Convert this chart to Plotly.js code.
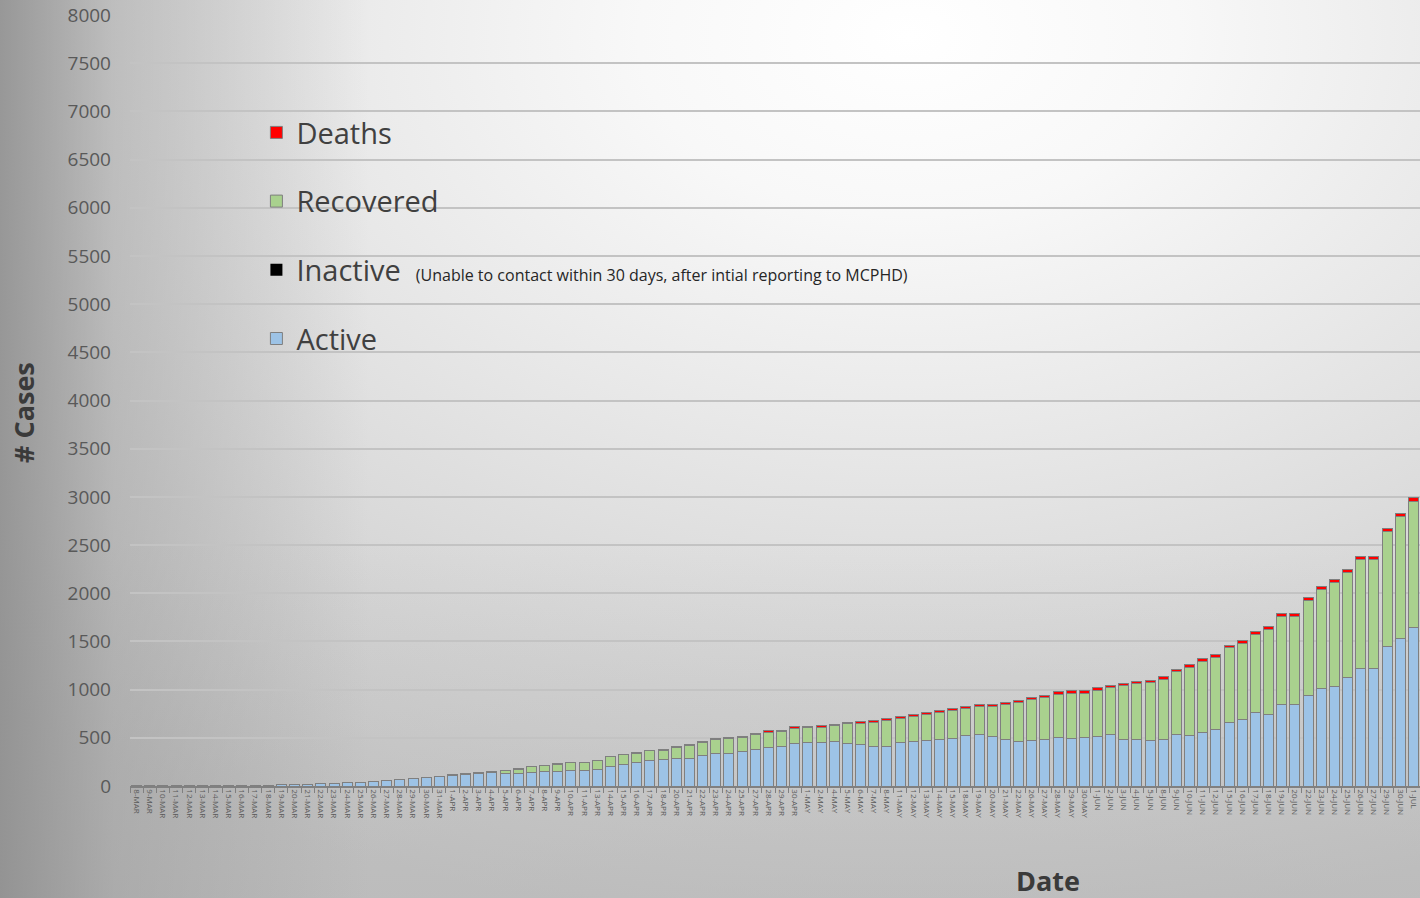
<!DOCTYPE html>
<html>
<head>
<meta charset="utf-8">
<script src="https://cdn.plot.ly/plotly-3.0.1.min.js"></script>
<style>
html,body{margin:0;padding:0;width:1420px;height:898px;overflow:hidden;}
body{
  background:
    linear-gradient(to right, rgba(140,140,140,0.85) 0%, rgba(150,150,150,0.45) 8%, rgba(160,160,160,0) 26%),
    linear-gradient(to bottom, rgba(170,170,170,0) 60%, rgba(170,170,170,0.35) 100%),
    radial-gradient(ellipse 95% 100% at 64% 4%, #ffffff 0%, #f8f8f8 20%, #e8e8e8 45%, #d4d4d4 75%, #c6c6c6 100%);
}
#chart{width:1420px;height:898px;}
</style>
</head>
<body>
<div id="chart"></div>
<script>
// ---- Data ----
const dates = [
  "8-MAR","9-MAR","10-MAR","11-MAR","12-MAR","13-MAR","14-MAR","15-MAR","16-MAR","17-MAR","18-MAR","19-MAR",
  "20-MAR","21-MAR","22-MAR","23-MAR","24-MAR","25-MAR","26-MAR","27-MAR","28-MAR","29-MAR","30-MAR","31-MAR",
  "1-APR","2-APR","3-APR","4-APR","5-APR","6-APR","7-APR","8-APR","9-APR","10-APR","11-APR","13-APR","14-APR",
  "15-APR","16-APR","17-APR","18-APR","20-APR","21-APR","22-APR","23-APR","24-APR","25-APR","27-APR","28-APR",
  "29-APR","30-APR","1-MAY","2-MAY","4-MAY","5-MAY","6-MAY","7-MAY","8-MAY","11-MAY","12-MAY","13-MAY","14-MAY",
  "15-MAY","18-MAY","19-MAY","20-MAY","21-MAY","22-MAY","26-MAY","27-MAY","28-MAY","29-MAY","30-MAY",
  "1-JUN","2-JUN","3-JUN","4-JUN","5-JUN","8-JUN","9-JUN","10-JUN","11-JUN","12-JUN","15-JUN","16-JUN","17-JUN",
  "18-JUN","19-JUN","20-JUN","22-JUN","23-JUN","24-JUN","25-JUN","26-JUN","27-JUN","29-JUN","30-JUN","1-JUL"
];

const active = [
  1,1,1,2,2,3,3,4,5,7,9,14,
  17,18,21,25,33,37,49,59,69,74,86,98,
  108,118,126,138,125,126,145,150,155,158,160,176,200,
  224,241,269,276,286,290,317,338,341,355,383,397,
  414,441,448,448,462,441,428,407,414,448,462,476,483,
  490,524,531,510,483,459,469,483,503,493,500,
  510,538,483,483,469,486,534,524,555,586,662,693,759,
  745,841,841,938,1007,1034,1124,1217,1217,1452,1534,1641
];

const inactive = [
  0,0,0,0,0,0,0,0,0,0,0,0,
  0,0,0,0,0,0,0,0,0,0,0,0,
  0,0,0,0,0,0,0,0,0,0,0,0,0,
  0,0,0,0,0,0,0,0,0,0,0,0,
  0,0,0,0,0,0,0,0,0,0,0,0,0,
  0,0,0,0,0,0,0,0,0,0,0,
  0,0,0,0,0,0,0,0,0,0,0,0,0,
  0,0,0,0,0,0,0,0,0,0,0,0
];

const recovered = [
  0,0,0,0,0,0,0,0,0,0,0,0,
  0,0,0,0,0,0,0,0,0,0,0,0,
  6,9,11,13,33,48,54,62,70,81,82,84,103,
  100,99,95,94,111,128,131,144,147,146,149,161,
  148,158,157,160,162,204,223,251,264,257,263,263,282,
  289,282,292,315,359,403,428,433,451,467,460,
  485,480,556,576,600,624,652,707,737,747,770,787,811,
  883,921,921,989,1027,1074,1091,1135,1135,1189,1262,1313
];

const deaths = [
  0,0,0,0,0,0,0,0,0,0,0,0,
  0,0,0,0,1,1,1,1,1,2,2,2,
  2,2,3,3,4,4,4,5,5,5,6,6,7,
  7,8,8,9,10,10,11,11,12,13,13,14,
  14,15,16,16,17,17,18,18,19,19,20,20,21,
  21,22,22,23,23,24,24,25,25,26,26,
  26,27,27,27,28,28,28,28,29,29,30,30,30,
  31,31,31,32,32,33,33,34,34,35,35,36
];

const yTicks = [0,500,1000,1500,2000,2500,3000,3500,4000,4500,5000,5500,6000,6500,7000,7500,8000];

// ---- Styles ----
const outline = {color: '#7f7f7f', width: 1};

const traces = [
  {name: 'Active', y: active, color: '#9dc3e6', line: outline, rank: 4},
  {name: 'Inactive&nbsp;&nbsp;<span style="font-size:16px;color:#262626">(Unable to contact within 30 days, after intial reporting to MCPHD)</span>', y: inactive, color: '#000000', line: {color: '#000000', width: 0}, rank: 3},
  {name: 'Recovered', y: recovered, color: '#a9d18e', line: outline, rank: 2},
  {name: 'Deaths', y: deaths, color: '#ff0000', line: outline, rank: 1}
].map((t, i) => ({
  type: 'bar',
  x: dates,
  y: t.y,
  name: t.name,
  legendgroup: 'g' + i,
  legendrank: t.rank,
  marker: {color: t.color, line: t.line},
  hoverinfo: 'x+y+name'
}));

const layout = {
  width: 1420,
  height: 898,
  barmode: 'stack',
  bargap: 0.24,
  paper_bgcolor: 'rgba(0,0,0,0)',
  plot_bgcolor: 'rgba(0,0,0,0)',
  margin: {l: 130, r: 0, t: 15, b: 112, pad: 0},
  font: {family: 'Open Sans, sans-serif', color: '#595959'},
  showlegend: true,
  legend: {
    x: 0.098, y: 0.8806, xanchor: 'left', yanchor: 'top',
    bgcolor: 'rgba(0,0,0,0)',
    font: {size: 29, color: '#404040', family: 'Open Sans, sans-serif'},
    traceorder: 'grouped',
    tracegroupgap: 28,
    itemwidth: 30
  },
  xaxis: {
    type: 'category',
    range: [-0.5, dates.length - 0.5],
    tickangle: 90,
    tickfont: {size: 8, color: '#595959'},
    ticks: 'outside',
    tickson: 'boundaries',
    ticklen: 5,
    tickcolor: '#808080',
    showline: true,
    linecolor: '#808080',
    linewidth: 1.5,
    showgrid: false,
    fixedrange: true
  },
  yaxis: {
    range: [0, 8000],
    tickvals: yTicks,
    ticktext: yTicks.map(String),
    tickfont: {size: 19, color: '#595959'},
    ticklabelstandoff: 18,
    showgrid: true,
    gridcolor: '#c3c3c3',
    gridwidth: 1.5,
    zeroline: false,
    showline: false,
    ticks: '',
    fixedrange: true
  },
  annotations: [
    {text: '<b># Cases</b>', xref: 'paper', yref: 'paper', x: -0.083, y: 0.485,
     textangle: -90, showarrow: false, font: {size: 27, color: '#3a3a3a', family: 'Open Sans, sans-serif'},
     xanchor: 'center', yanchor: 'middle'},
    {text: '<b>Date</b>', xref: 'paper', yref: 'paper', x: 0.7116, y: -0.123,
     showarrow: false, font: {size: 27, color: '#3a3a3a', family: 'Open Sans, sans-serif'},
     xanchor: 'center', yanchor: 'middle'}
  ]
};

Plotly.newPlot('chart', traces, layout, {displayModeBar: false});
</script>
</body>
</html>
